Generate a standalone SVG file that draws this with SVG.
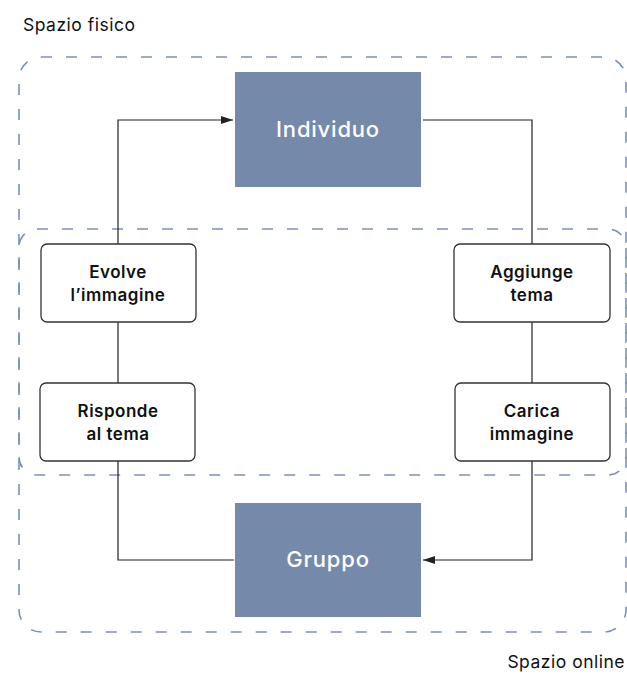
<svg xmlns="http://www.w3.org/2000/svg" width="627" height="675" viewBox="0 0 627 675">
  <style>
    .zone { fill: none; stroke: #7d90b2; stroke-width: 1.6; stroke-dasharray: 11 14; }
    .main rect { fill: #7589aa; }
    .main text { fill: #ffffff; font-family: Inter, "Open Sans", sans-serif; font-size: 22px; font-weight: 500; letter-spacing: 0.8px; text-anchor: middle; }
    .step rect { fill: #ffffff; stroke: #333333; stroke-width: 1.3; }
    .step text { fill: #111111; font-family: Inter, "Open Sans", sans-serif; font-size: 17px; font-weight: 600; letter-spacing: 0.5px; text-anchor: middle; }
    .label { fill: #111111; font-family: Inter, "Open Sans", sans-serif; font-size: 17.5px; letter-spacing: 0.5px; }
    .link { fill: none; stroke: #222222; stroke-width: 1.2; }
  </style>
  <defs>
    <marker id="arrow" viewBox="0 0 12 8" refX="12" refY="4" markerWidth="12" markerHeight="8" markerUnits="userSpaceOnUse" orient="auto">
      <path d="M0,0 L12,4 L0,8 Z" fill="#222222"/>
    </marker>
  </defs>

  <!-- zones -->
  <g id="zone-fisico">
    <rect class="zone" x="19" y="57" width="607" height="575" rx="22"/>
    <text class="label" x="23" y="31">Spazio fisico</text>
  </g>
  <g id="zone-online">
    <rect class="zone" x="19" y="229" width="607" height="246" rx="18"/>
    <text class="label" x="625" y="668" text-anchor="end">Spazio online</text>
  </g>

  <!-- connectors -->
  <g id="connectors">
    <path class="link" d="M118,244 V120 H233" marker-end="url(#arrow)"/>
    <path class="link" d="M423,120 H532 V244"/>
    <path class="link" d="M532,322 V383"/>
    <path class="link" d="M532,461 V560 H423" marker-end="url(#arrow)"/>
    <path class="link" d="M118,322 V383"/>
    <path class="link" d="M118,461 V560 H234"/>
  </g>

  <!-- nodes -->
  <g id="individuo" class="main">
    <rect x="235" y="72" width="186" height="115"/>
    <text x="328" y="137">Individuo</text>
  </g>
  <g id="gruppo" class="main">
    <rect x="235" y="503" width="186" height="114"/>
    <text x="328" y="567">Gruppo</text>
  </g>
  <g id="evolve" class="step">
    <rect x="41" y="244" width="155" height="78" rx="6"/>
    <text x="118" y="278">Evolve</text>
    <text x="118" y="301">l’immagine</text>
  </g>
  <g id="risponde" class="step">
    <rect x="40" y="383" width="155" height="78" rx="6"/>
    <text x="118" y="417">Risponde</text>
    <text x="118" y="440">al tema</text>
  </g>
  <g id="aggiunge" class="step">
    <rect x="454" y="244" width="156" height="78" rx="6"/>
    <text x="532" y="278">Aggiunge</text>
    <text x="532" y="301">tema</text>
  </g>
  <g id="carica" class="step">
    <rect x="455" y="383" width="155" height="78" rx="6"/>
    <text x="532" y="417">Carica</text>
    <text x="532" y="440">immagine</text>
  </g>
</svg>
